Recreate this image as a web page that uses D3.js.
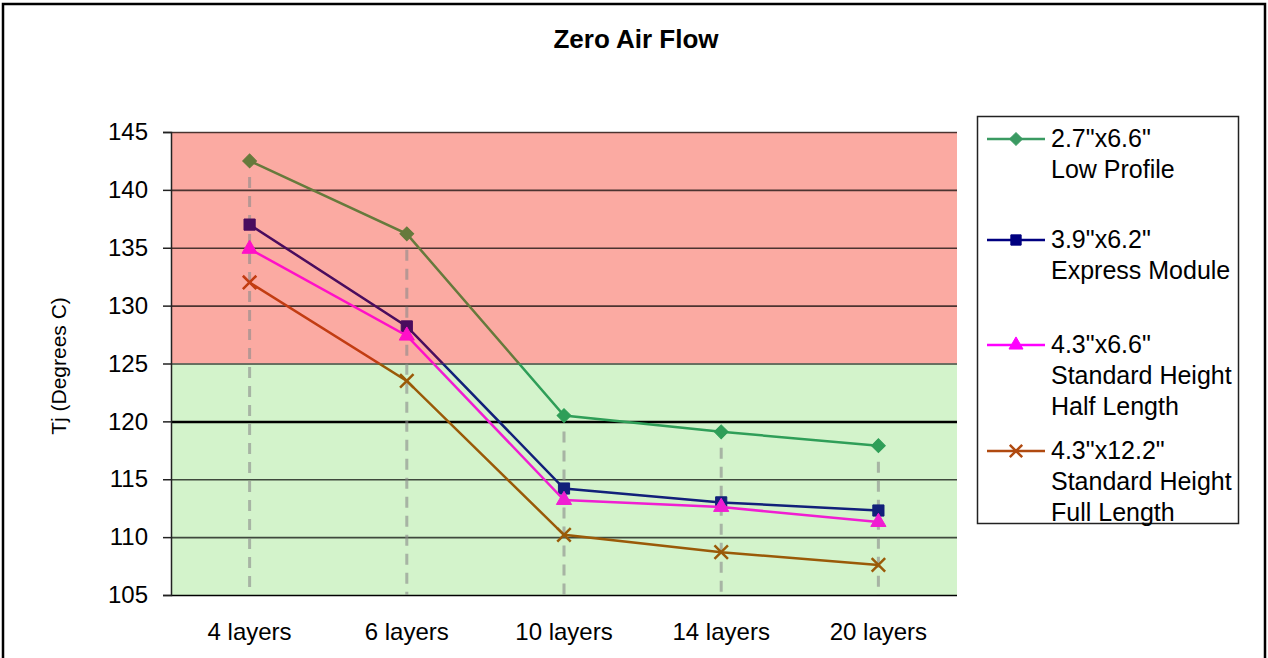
<!DOCTYPE html>
<html lang="en">
  <head>
    <meta charset="utf-8">
    <title>Zero Air Flow</title>
    <script src="https://d3js.org/d3.v7.min.js"></script>
    <style>
      body { margin: 0; background: #fff; }
      text { font-family: "Liberation Sans", Arial, sans-serif; fill: #000; }
    </style>
  </head>
  <body>
    <script>
      // chart data
      var categories = ["4 layers", "6 layers", "10 layers", "14 layers", "20 layers"]
      var lowProfile = [142.5, 136.2, 120.5, 119.1, 117.9]
      var expressModule = [137.0, 128.2, 114.2, 113.0, 112.3]
      var halfLength = [134.9, 127.4, 113.2, 112.6, 111.3]
      var fullLength = [132.0, 123.5, 110.2, 108.7, 107.6]
      var yTicks = [105, 110, 115, 120, 125, 130, 135, 140, 145]
      var hotLimit = 125
      var legendLabels = [
        ['2.7"x6.6"', "Low Profile"],
        ['3.9"x6.2"', "Express Module"],
        ['4.3"x6.6"', "Standard Height", "Half Length"],
        ['4.3"x12.2"', "Standard Height", "Full Length"]
      ]

      var width = 1268, height = 658
      var plotLeft = 171, plotRight = 957, plotTop = 132, plotBottom = 595

      // diamond = square turned 45 degrees, like the Excel marker
      var series = [
        { values: lowProfile, symbol: d3.symbolSquare, rotate: 45, size: 95, cool: "#2f9e58", hot: "#667a3c", legend: "#3a9a62" },
        { values: expressModule, symbol: d3.symbolSquare, rotate: 0, size: 125, cool: "#12207a", hot: "#4a0c5e", legend: "#000080" },
        { values: halfLength, symbol: d3.symbolTriangle, rotate: 0, size: 100, cool: "#f01ed2", hot: "#ff10c8", legend: "#ff00ff" },
        { values: fullLength, symbol: d3.symbolTimes, rotate: 0, size: 120, cool: "#9a5a08", hot: "#c23c12", legend: "#b04a10", open: true }
      ]

      var svg = d3.select("body").append("svg")
        .attr("width", width)
        .attr("height", height)

      // outer frame
      svg.append("path")
        .attr("d", "M3,700 V4 H1265 V700")
        .attr("fill", "none")
        .attr("stroke", "#000")
        .attr("stroke-width", 2.5)

      var x = d3.scaleBand().domain(categories).range([plotLeft, plotRight])
      var y = d3.scaleLinear().domain([105, 145]).range([plotBottom, plotTop])
      var cx = function(i) { return x(categories[i]) + x.bandwidth() / 2 }

      // background zones
      svg.append("rect")
        .attr("x", plotLeft).attr("y", y(145))
        .attr("width", plotRight - plotLeft).attr("height", y(hotLimit) - y(145))
        .attr("fill", "#fbaaa2")
      svg.append("rect")
        .attr("x", plotLeft).attr("y", y(hotLimit))
        .attr("width", plotRight - plotLeft).attr("height", y(105) - y(hotLimit))
        .attr("fill", "#d3f3cb")

      // gridlines
      svg.append("g")
        .attr("transform", "translate(" + plotLeft + ",0)")
        .call(d3.axisLeft(y).tickValues(yTicks).tickSize(-(plotRight - plotLeft)).tickFormat(""))
        .call(function(g) {
          g.select(".domain").remove()
          g.selectAll(".tick line")
            .attr("stroke", "#000")
            .attr("stroke-opacity", function(d) { return d == 120 || d == 105 ? 1 : 0.7 })
            .attr("stroke-width", function(d) { return d == 120 ? 2.5 : 1.6 })
        })

      // y axis
      svg.append("g")
        .attr("transform", "translate(" + plotLeft + ",0)")
        .call(d3.axisLeft(y).tickValues(yTicks).tickSize(8).tickPadding(15))
        .call(function(g) {
          g.select(".domain").attr("stroke", "#222").attr("stroke-width", 1.5)
          g.selectAll(".tick line").attr("stroke", "#222").attr("stroke-width", 1.5)
          g.selectAll(".tick text")
            .style("font-size", "24px")
            .style("font-family", "Liberation Sans, Arial, sans-serif")
            .attr("fill", "#000")
        })

      // drop lines from highest point
      svg.append("g").selectAll("line")
        .data(categories)
        .enter().append("line")
          .attr("x1", function(d, i) { return cx(i) })
          .attr("x2", function(d, i) { return cx(i) })
          .attr("y1", function(d, i) { return y(d3.max(series, function(s) { return s.values[i] })) + 16 })
          .attr("y2", plotBottom)
          .attr("stroke", "#8a8a8a")
          .attr("stroke-opacity", 0.6)
          .attr("stroke-width", 3)
          .attr("stroke-dasharray", "11,8")

      // x labels
      svg.append("g").selectAll("text")
        .data(categories)
        .enter().append("text")
          .attr("x", function(d, i) { return cx(i) })
          .attr("y", 640)
          .attr("text-anchor", "middle")
          .style("font-size", "24px")
          .text(function(d) { return d })

      // clip regions so the series change tint over the hot zone
      var defs = svg.append("defs")
      defs.append("clipPath").attr("id", "hotClip").append("rect")
        .attr("x", 0).attr("y", 0).attr("width", width).attr("height", y(hotLimit))
      defs.append("clipPath").attr("id", "coolClip").append("rect")
        .attr("x", 0).attr("y", y(hotLimit)).attr("width", width).attr("height", height)

      var line = d3.line()
        .x(function(d, i) { return cx(i) })
        .y(function(d) { return y(d) })

      ;["cool", "hot"].forEach(function(zone) {
        var layer = svg.append("g").attr("clip-path", "url(#" + zone + "Clip)")
        series.forEach(function(s) {
          layer.append("path")
            .attr("d", line(s.values))
            .attr("fill", "none")
            .attr("stroke", s[zone])
            .attr("stroke-width", 2.5)
          layer.selectAll(null)
            .data(s.values)
            .enter().append("path")
              .attr("transform", function(d, i) {
                return "translate(" + cx(i) + "," + y(d) + ") rotate(" + s.rotate + ")"
              })
              .attr("d", d3.symbol().type(s.symbol).size(s.size))
              .attr("fill", s.open ? "none" : s[zone])
              .attr("stroke", s[zone])
              .attr("stroke-width", s.open ? 2.5 : 1)
        })
      })

      // title
      svg.append("text")
        .attr("x", 636).attr("y", 48)
        .attr("text-anchor", "middle")
        .style("font-size", "26px")
        .style("font-weight", "bold")
        .text("Zero Air Flow")

      // y axis title
      svg.append("text")
        .attr("transform", "translate(66,366) rotate(-90)")
        .attr("text-anchor", "middle")
        .style("font-size", "21px")
        .text("Tj (Degrees C)")

      // legend
      var legend = svg.append("g")
      legend.append("rect")
        .attr("x", 977.5).attr("y", 116.5)
        .attr("width", 261).attr("height", 407)
        .attr("fill", "#fff")
        .attr("stroke", "#222")
        .attr("stroke-width", 1.5)

      var entryTop = [147, 248, 353, 459]
      legendLabels.forEach(function(lines, k) {
        var s = series[k]
        var g = legend.append("g").attr("transform", "translate(0," + entryTop[k] + ")")
        g.append("line")
          .attr("x1", 987).attr("x2", 1045)
          .attr("y1", -8).attr("y2", -8)
          .attr("stroke", s.legend)
          .attr("stroke-width", 2.5)
        g.append("path")
          .attr("transform", "translate(1016,-8) rotate(" + s.rotate + ")")
          .attr("d", d3.symbol().type(s.symbol).size(s.size * 0.85))
          .attr("fill", s.open ? "none" : s.legend)
          .attr("stroke", s.legend)
          .attr("stroke-width", s.open ? 2.5 : 1)
        g.selectAll("text")
          .data(lines)
          .enter().append("text")
            .attr("x", 1051)
            .attr("y", function(d, i) { return i * 31 })
            .style("font-size", "25px")
            .text(function(d) { return d })
      })
    </script>
  </body>
</html>
